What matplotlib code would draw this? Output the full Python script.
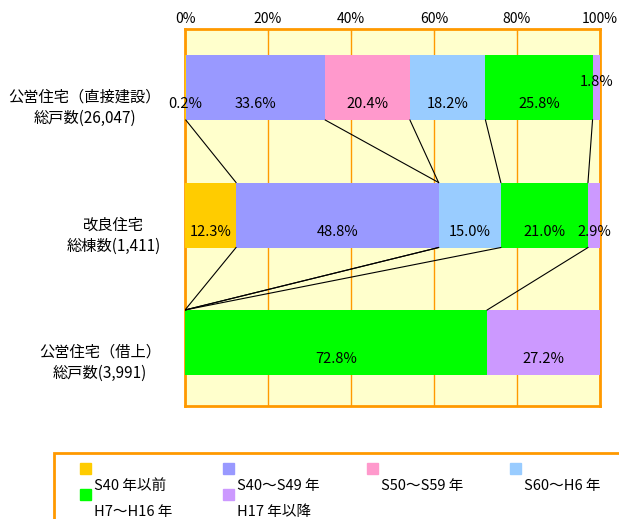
import numpy as np
import matplotlib.pyplot as plt
from matplotlib.patches import Rectangle

plt.rcParams['font.family'] = ['Noto Sans CJK JP', 'DejaVu Sans']

# データ
categories = ['公営住宅（直接建設）\n総戸数(26,047)', '改良住宅\n総棟数(1,411)', '公営住宅（借上）\n総戸数(3,991)']
series = ['S40 年以前', 'S40～S49 年', 'S50～S59 年', 'S60～H6 年', 'H7～H16 年', 'H17 年以降']
values = np.array([
    [0.2, 33.6, 20.4, 18.2, 25.8, 1.8],
    [12.3, 48.8, 0.0, 15.0, 21.0, 2.9],
    [0.0, 0.0, 0.0, 0.0, 72.8, 27.2],
])
colors = ['#FFCC00', '#9999FF', '#FF99CC', '#99CCFF', '#00FF00', '#CC99FF']
xticks = [0, 20, 40, 60, 80, 100]

W, H = 619, 519
fig = plt.figure(figsize=(W / 100, H / 100), dpi=100)
ax = fig.add_axes([185 / W, 1 - 406 / H, 415 / W, 377 / H])
ax.set_facecolor('#FFFFCC')

bar_h = 0.51
ypos = np.arange(len(categories))
left = np.zeros(len(categories))
for j, name in enumerate(series):
    ax.barh(ypos, values[:, j], left=left, height=bar_h, color=colors[j], edgecolor='none', zorder=3)
    for i in range(len(categories)):
        v = values[i, j]
        if v > 0:
            dy = 0.13
            if i == 0 and j == len(series) - 1:
                dy = -0.04
            ax.text(left[i] + v / 2, ypos[i] + dy, f'{v:.1f}%', ha='center', va='center',
                    fontsize=10.5, zorder=5)
    left += values[:, j]

# 区分線
cum = np.cumsum(values, axis=1)
for i in range(len(categories) - 1):
    for j in range(len(series) - 1):
        ax.plot([cum[i, j], cum[i + 1, j]], [ypos[i] + bar_h / 2, ypos[i + 1] - bar_h / 2],
                color='black', lw=0.8, zorder=4)

ax.set_xlim(0, 100)
ax.set_ylim(2.498, -0.459)
ax.set_xticks(xticks)
ax.set_xticklabels([f'{t}%' for t in xticks], fontsize=10)
ax.xaxis.tick_top()
ax.tick_params(axis='x', direction='in', length=4, color='#FF9900', pad=2)
ax.set_yticks([])
ax.grid(axis='x', color='#FF9900', lw=1, zorder=1)
for s in ax.spines.values():
    s.set_color('#FF9900')
    s.set_linewidth(2)

for i, c in enumerate(categories):
    ax.text(-24 / 415 * 100, ypos[i] + 0.16, c, ha='right', va='center', multialignment='center',
            fontsize=11, linespacing=1.3)

# 凡例
fig.add_artist(Rectangle((54 / W, -0.1), 620 / W, 1 - 453 / H + 0.1, transform=fig.transFigure,
                         fill=False, edgecolor='#FF9900', lw=2))
col_x = [80, 223, 367, 510]
row_y = [469, 495]
for k, name in enumerate(series):
    cx = col_x[k % 4]
    ry = row_y[k // 4]
    fig.add_artist(Rectangle((cx / W, 1 - (ry + 5) / H), 11 / W, 11 / H, transform=fig.transFigure,
                             color=colors[k]))
    fig.text((cx + 14) / W, 1 - (ry + 17) / H, name, fontsize=10.5, ha='left', va='center')

fig.savefig('out.png', dpi=100)
